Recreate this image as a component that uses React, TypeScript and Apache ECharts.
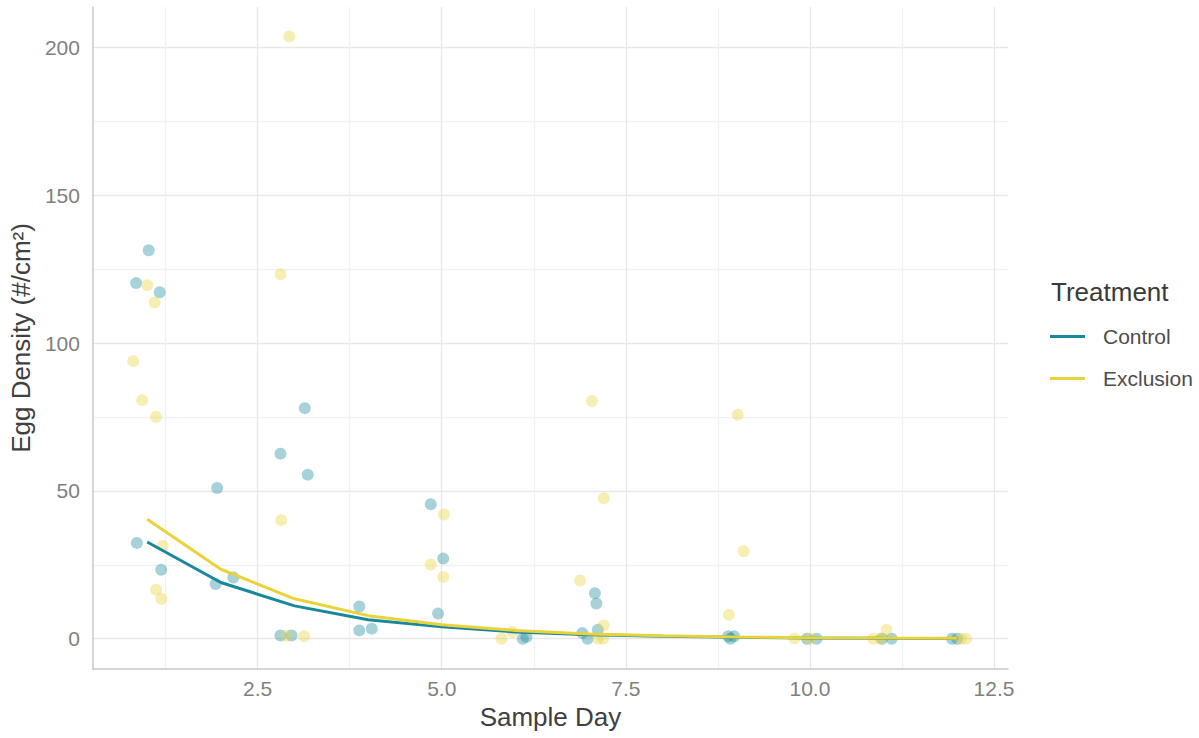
import React, { useEffect, useRef } from "react";
import * as echarts from "echarts";

// Egg density samples (jittered sample day, eggs per cm²)
const controlPoints: [number, number][] = [
  [0.85, 120.3], [1.02, 131.4], [1.17, 117.2], [0.86, 32.4], [1.19, 23.3],
  [1.95, 51.0], [1.93, 18.5], [2.17, 20.7],
  [2.81, 62.6], [3.18, 55.5], [3.14, 78.0], [2.81, 1.1], [2.96, 1.1],
  [3.88, 10.9], [3.88, 2.8], [4.05, 3.4],
  [4.85, 45.5], [5.02, 27.1], [4.95, 8.5],
  [6.10, 0], [6.15, 0.6],
  [6.91, 1.9], [6.98, 0], [7.08, 15.4], [7.10, 11.9], [7.12, 3.0],
  [8.89, 0.8], [8.97, 0.8], [8.92, 0],
  [9.96, 0], [10.09, 0],
  [10.98, 0], [11.11, 0],
  [11.93, 0], [12.0, 0],
];

const exclusionPoints: [number, number][] = [
  [0.81, 93.9], [0.93, 80.7], [1.12, 75.1], [1.0, 119.6], [1.10, 113.7], [1.21, 31.4], [1.12, 16.6], [1.19, 13.5],
  [2.81, 123.3], [2.93, 203.7], [2.82, 40.1], [2.89, 1.0], [3.13, 0.8],
  [5.03, 42.0], [4.85, 25.1], [5.02, 20.9],
  [5.81, 0], [5.96, 2.3],
  [7.04, 80.4], [7.20, 47.5], [6.88, 19.7], [7.20, 4.5], [7.12, 0], [7.19, 0],
  [9.02, 75.8], [9.10, 29.6], [8.90, 8.1],
  [9.79, 0.1], [10.0, 0],
  [10.86, 0], [11.04, 3.0], [10.96, 0],
  [12.12, 0], [12.05, 0],
];

// Fitted trend per sample day
const controlFit: [number, number][] = [
  [1, 32.7], [2, 19.0], [3, 11.1], [4, 6.4], [5, 4.0], [6, 2.3],
  [7, 1.3], [8, 0.8], [9, 0.45], [10, 0.25], [11, 0.15], [12, 0.08],
];
const exclusionFit: [number, number][] = [
  [1, 40.4], [2, 23.5], [3, 13.5], [4, 7.8], [5, 4.7], [6, 2.8],
  [7, 1.6], [8, 1.0], [9, 0.6], [10, 0.35], [11, 0.2], [12, 0.12],
];

const xTickValues = [2.5, 5, 7.5, 10, 12.5];
const yTickValues = [0, 50, 100, 150, 200];
const xGridValues = [1.25, 2.5, 3.75, 5, 6.25, 7.5, 8.75, 10, 11.25, 12.5];
const yGridValues = [0, 25, 50, 75, 100, 125, 150, 175, 200];

const CONTROL = "#18899D";
const EXCLUSION = "#EAD23B";
const FONT = "'Liberation Sans', Arial, sans-serif";

export default function App() {
  const ref = useRef<HTMLDivElement>(null);

  useEffect(() => {
    const chart = echarts.init(ref.current!, null, { renderer: "svg" });
    chart.setOption({
      animation: false,
      backgroundColor: "#ffffff",
      textStyle: { fontFamily: FONT },
      grid: { left: 91, right: 191, top: 7, bottom: 69 },
      title: {
        text: "Treatment",
        left: 1046,
        top: 274,
        textStyle: { fontSize: 26, fontWeight: "normal", color: "#3a3a3a", fontFamily: FONT },
      },
      legend: {
        data: ["Control", "Exclusion"],
        orient: "vertical",
        left: 1045,
        top: 321,
        itemWidth: 35,
        itemHeight: 3,
        itemGap: 21,
        icon: "rect",
        selectedMode: false,
        textStyle: { fontSize: 21, color: "#4d4d4d", padding: [0, 0, 0, 13], fontFamily: FONT },
      },
      xAxis: {
        type: "value",
        min: 0.263,
        max: 12.69,
        name: "Sample Day",
        nameLocation: "middle",
        nameGap: 30,
        nameTextStyle: { fontSize: 26, color: "#404040" },
        axisLine: { show: true, onZero: false, lineStyle: { color: "#c8c8c8", width: 1.5 } },
        axisTick: { show: false, customValues: xGridValues },
        axisLabel: {
          customValues: xTickValues,
          formatter: (v: number) => v.toFixed(1),
          fontSize: 21,
          color: "#7f7f7f",
          margin: 9,
        },
        splitLine: { show: true, lineStyle: { color: ["#f1f1f1", "#e8e8e8"], width: 1.3 } },
      },
      yAxis: {
        type: "value",
        min: -10.25,
        max: 213.7,
        name: "Egg Density (#/cm²)",
        nameLocation: "middle",
        nameGap: 52,
        nameTextStyle: { fontSize: 26, color: "#404040" },
        axisLine: { show: true, onZero: false, lineStyle: { color: "#c8c8c8", width: 1.5 } },
        axisTick: { show: false, customValues: yGridValues },
        axisLabel: {
          customValues: yTickValues,
          formatter: (v: number) => String(Math.round(v)),
          fontSize: 21,
          color: "#7f7f7f",
          margin: 13,
        },
        splitLine: { show: true, lineStyle: { color: ["#e8e8e8", "#f1f1f1"], width: 1.3 } },
      },
      series: [
        {
          name: "Control samples",
          type: "scatter",
          data: controlPoints,
          symbolSize: 12,
          silent: true,
          itemStyle: { color: CONTROL, opacity: 0.38 },
          z: 2,
        },
        {
          name: "Exclusion samples",
          type: "scatter",
          data: exclusionPoints,
          symbolSize: 12,
          silent: true,
          itemStyle: { color: EXCLUSION, opacity: 0.38 },
          z: 2,
        },
        {
          name: "Control",
          type: "line",
          data: controlFit,
          showSymbol: false,
          symbol: "none",
          silent: true,
          lineStyle: { color: CONTROL, width: 3 },
          itemStyle: { color: CONTROL },
          z: 3,
        },
        {
          name: "Exclusion",
          type: "line",
          data: exclusionFit,
          showSymbol: false,
          symbol: "none",
          silent: true,
          lineStyle: { color: EXCLUSION, width: 3 },
          itemStyle: { color: EXCLUSION },
          z: 4,
        },
      ],
    });
    return () => chart.dispose();
  }, []);

  return (
    <div
      ref={ref}
      style={{ position: "fixed", left: 0, top: 0, width: 1199, height: 738, background: "#fff" }}
    />
  );
}
